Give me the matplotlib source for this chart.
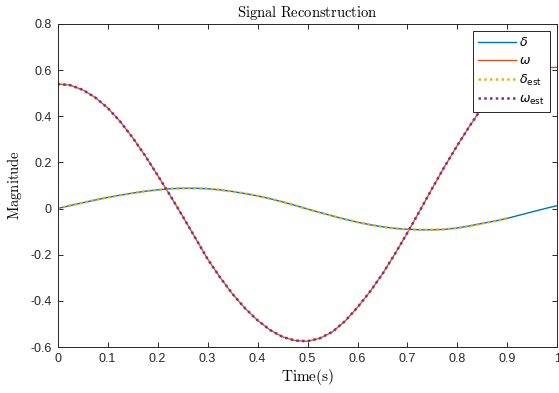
import numpy as np
import matplotlib
matplotlib.use('Agg')
import matplotlib.pyplot as plt

plt.rcParams['font.family'] = ['Liberation Sans', 'DejaVu Sans']
plt.rcParams['font.size'] = 9

t = [0.000, 0.025, 0.050, 0.075, 0.100, 0.125, 0.150, 0.175, 0.200, 0.225,
     0.250, 0.275, 0.300, 0.325, 0.350, 0.375, 0.400, 0.425, 0.450, 0.475,
     0.500, 0.525, 0.550, 0.575, 0.600, 0.625, 0.650, 0.675, 0.700, 0.725,
     0.750, 0.775, 0.800, 0.825, 0.850, 0.875, 0.900, 0.925, 0.950, 0.975, 1.000]
delta = [0.000, 0.013, 0.025, 0.037, 0.048, 0.058, 0.067, 0.075, 0.081, 0.086,
         0.088, 0.088, 0.086, 0.081, 0.074, 0.065, 0.055, 0.043, 0.029, 0.014,
         -0.002, -0.017, -0.032, -0.046, -0.059, -0.070, -0.079, -0.086, -0.090, -0.092,
         -0.092, -0.090, -0.084, -0.075, -0.064, -0.054, -0.042, -0.028, -0.014, 0.000, 0.013]
omega = [0.540, 0.535, 0.515, 0.482, 0.437, 0.378, 0.308, 0.230, 0.145, 0.058,
         -0.032, -0.125, -0.218, -0.298, -0.370, -0.432, -0.484, -0.526, -0.556, -0.572,
         -0.575, -0.562, -0.534, -0.488, -0.428, -0.360, -0.283, -0.196, -0.104, -0.008,
         0.090, 0.185, 0.275, 0.360, 0.440, 0.500, 0.548, 0.580, 0.600, 0.610, 0.612]

# estimates only go up to 0.9 s
n_est = 37
t_est = t[:n_est]
delta_est = delta[:n_est]
omega_est = omega[:n_est]

c_delta = '#0072BD'
c_omega = '#D95319'
c_delta_est = '#EDB120'
c_omega_est = '#7E2F8E'

fig = plt.figure(figsize=(5.59, 3.93), dpi=100)
ax = fig.add_axes([0.1029, 0.117, 0.8944, 0.822])

ax.plot(t, delta, color=c_delta, lw=1.0, label=r'$\delta$')
ax.plot(t, omega, color=c_omega, lw=1.0, label=r'$\omega$')
ax.plot(t_est, delta_est, color=c_delta_est, lw=1.8, ls=(0, (1, 1.3)),
        dash_capstyle='butt', label=r'$\delta_\mathrm{est}$')
ax.plot(t_est, omega_est, color=c_omega_est, lw=1.8, ls=(0, (1, 1.3)),
        dash_capstyle='butt', label=r'$\omega_\mathrm{est}$')

ax.set_xlim(0, 1)
ax.set_ylim(-0.6, 0.8)
ax.set_xticks(np.arange(0, 1.01, 0.1))
ax.set_xticklabels(['0', '0.1', '0.2', '0.3', '0.4', '0.5', '0.6', '0.7', '0.8', '0.9', '1'])
ax.set_yticks(np.arange(-0.6, 0.81, 0.2))
ax.set_yticklabels(['-0.6', '-0.4', '-0.2', '0', '0.2', '0.4', '0.6', '0.8'])
ax.tick_params(direction='in', length=3.5, width=0.7, top=True, right=True,
               colors='#262626', labelsize=9, pad=4)
for s in ax.spines.values():
    s.set_color('#262626')
    s.set_linewidth(0.7)

ax.set_title(r'$\mathrm{Signal\ Reconstruction}$', math_fontfamily='cm',
             fontsize=10.5, pad=5)
ax.set_xlabel(r'$\mathrm{Time(s)}$', math_fontfamily='cm', fontsize=11, labelpad=2)
ax.set_ylabel(r'$\mathrm{Magnitude}$', math_fontfamily='cm', fontsize=10.5, labelpad=5)

leg = ax.legend(loc='upper right', fontsize=9, handlelength=3.0, borderaxespad=0.6,
                fancybox=False, framealpha=1, edgecolor='#262626',
                handletextpad=0.3, labelspacing=0.45, borderpad=0.4)
leg.get_frame().set_linewidth(0.7)

fig.savefig('out.png', dpi=100)
